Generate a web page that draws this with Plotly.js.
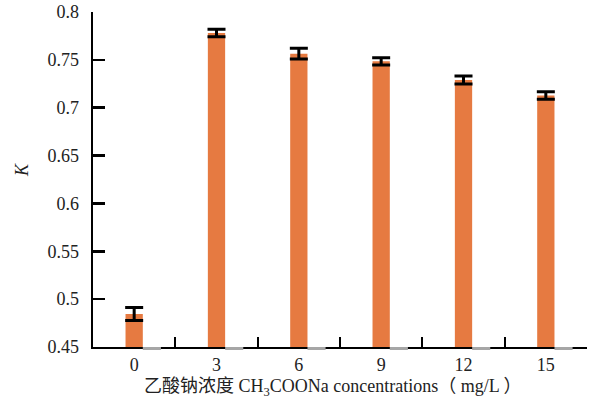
<!DOCTYPE html>
<html><head><meta charset="utf-8">
<script src="https://cdn.plot.ly/plotly-3.0.1.min.js"></script>
<style>html,body{margin:0;padding:0;background:#fff}#chart{width:590px;height:400px}</style>
</head><body><div id="chart"></div>
<script>
const categories = ['0','3','6','9','12','15'];
const kValues = [0.4845, 0.778, 0.7564, 0.7485, 0.729, 0.7128];
const kErrors = [0.0068, 0.0039, 0.0056, 0.0038, 0.0042, 0.004];
const grayValues = [-0.003, -0.003, -0.003, -0.003, -0.003, -0.003];
const yTicks = [0.45, 0.5, 0.55, 0.6, 0.65, 0.7, 0.75, 0.8];
const yTickText = ['0.45','0.5','0.55','0.6','0.65','0.7','0.75','0.8'];
const xTitle = '乙酸钠浓度 CH<sub>3</sub>COONa concentrations（ mg/L ）';
const yTitle = '<i>K</i>';

const font = 'Liberation Serif, "Noto Sans CJK SC", serif';

const traces = [
  {
    type: 'bar', x: categories, y: grayValues, base: 0.45,
    xaxis: 'x', yaxis: 'y2',
    width: 0.22, offset: 0.105,
    marker: {color: '#a6a6a6', line: {width: 0}},
    hoverinfo: 'skip', showlegend: false
  },
  {
    type: 'bar', x: categories, y: kValues.map(v => v - 0.45), base: 0.45,
    width: 0.21, offset: -0.105,
    marker: {color: '#e67a41', line: {width: 0}},
    error_y: {type: 'data', array: kErrors, visible: true, color: '#000', thickness: 3, width: 9},
    showlegend: false
  }
];

const layout = {
  width: 590, height: 400,
  margin: {l: 93, r: 3, t: 12, b: 49},
  paper_bgcolor: '#fff', plot_bgcolor: 'rgba(0,0,0,0)',
  barmode: 'overlay',
  font: {family: font, size: 18, color: '#222'},
  xaxis: {
    type: 'category', range: [-0.5, 5.5], anchor: 'y',
    tickson: 'boundaries', ticks: 'inside', ticklen: 10, tickwidth: 2, tickcolor: '#000',
    showline: true, linewidth: 2.5, linecolor: '#000',
    showgrid: false, zeroline: false,
    ticklabelstandoff: 0,
    tickfont: {family: font, size: 18, color: '#222'}
  },
  yaxis: {
    domain: [0.0118, 1],
    range: [0.45, 0.8], tickvals: yTicks, ticktext: yTickText,
    ticks: 'inside', ticklen: 12, tickwidth: 2.5, tickcolor: '#000',
    showline: true, linewidth: 2.5, linecolor: '#000',
    showgrid: false, zeroline: false,
    ticklabelstandoff: 8,
    tickfont: {family: font, size: 18, color: '#222'}
  },
  yaxis2: {
    domain: [0, 0.0118], range: [0.446, 0.45], anchor: 'x',
    visible: false, showgrid: false, zeroline: false
  },
  annotations: [
    {
      text: xTitle, xref: 'paper', yref: 'paper', x: 0.1, y: -0.107,
      xanchor: 'left', yanchor: 'middle', showarrow: false,
      font: {family: font, size: 18, color: '#222'}
    },
    {
      text: yTitle, xref: 'paper', yref: 'paper', x: -0.1437, y: 0.534,
      xanchor: 'center', yanchor: 'middle', showarrow: false, textangle: -90,
      font: {family: font, size: 18, color: '#222'}
    }
  ]
};

Plotly.newPlot('chart', traces, layout, {staticPlot: true, displayModeBar: false});
</script>
</body></html>
